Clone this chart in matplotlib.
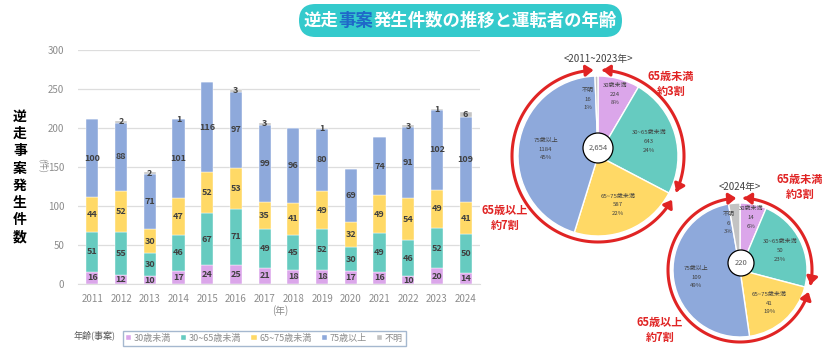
import numpy as np
import matplotlib.pyplot as plt
from matplotlib.patches import FancyBboxPatch, FancyArrowPatch, Circle
from matplotlib.path import Path

plt.rcParams['font.family'] = ['Noto Sans CJK JP', 'DejaVu Sans']

# data
years = [str(y) for y in range(2011, 2025)]
u30 = [16, 12, 10, 17, 24, 25, 21, 18, 18, 17, 16, 10, 20, 14]
a30_65 = [51, 55, 30, 46, 67, 71, 49, 45, 52, 30, 49, 46, 52, 50]
a65_75 = [44, 52, 30, 47, 52, 53, 35, 41, 49, 32, 49, 54, 49, 41]
o75 = [100, 88, 71, 101, 116, 97, 99, 96, 80, 69, 74, 91, 102, 109]
unknown = [0, 2, 2, 1, 0, 3, 3, 0, 1, 0, 0, 3, 1, 6]

age_labels = ['30歳未満', '30~65歳未満', '65~75歳未満', '75歳以上', '不明']
colors = ['#DBA6EA', '#66CBC0', '#FFD966', '#8EA9DB', '#C3C3C3']

pie_all = [224, 643, 587, 1184, 16]
pie_all_pct = ['8%', '24%', '22%', '45%', '1%']
pie_all_total = '2,654'
pie_24 = [14, 50, 41, 109, 6]
pie_24_pct = ['6%', '23%', '19%', '49%', '3%']
pie_24_total = '220'

W, H = 829, 360
fig = plt.figure(figsize=(W / 100, H / 100), dpi=100)

# ---------- stacked bar chart ----------
ax = fig.add_axes([78 / W, 76 / H, 402 / W, 234 / H])
x = np.arange(len(years))
bottom = np.zeros(len(years))
for vals, c, lab in zip([u30, a30_65, a65_75, o75, unknown], colors, age_labels):
    vals = np.array(vals)
    ax.bar(x, vals, bottom=bottom, width=0.42, color=c, edgecolor='white',
           linewidth=0.3, label=lab, zorder=2)
    for i, v in enumerate(vals):
        if v > 0:
            ax.text(x[i], bottom[i] + v / 2, str(v), ha='center', va='center',
                    fontsize=6.5, color='#404040', fontweight='bold', zorder=3)
    bottom = bottom + vals

ax.set_xlim(-0.5, len(years) - 0.5)
ax.set_ylim(0, 300)
ax.set_yticks(range(0, 301, 50))
ax.set_xticks(x)
ax.set_xticklabels(years)
ax.tick_params(length=0, labelsize=7, labelcolor='#8C8C8C')
ax.tick_params(axis='x', pad=7)
ax.tick_params(axis='y', pad=10)
ax.grid(axis='y', color='#DDDDDD', linewidth=0.9, zorder=0)
for s in ['top', 'right', 'left']:
    ax.spines[s].set_visible(False)
ax.spines['bottom'].set_color('#DDDDDD')

fig.text(280 / W, 1 - 311 / H, '(年)', ha='center', va='center', fontsize=7, color='#8C8C8C')
fig.text(43 / W, 1 - 166 / H, '(件)', ha='center', va='center', fontsize=6.5,
         color='#8C8C8C', rotation=270)

# vertical title
for k, ch in enumerate('逆走事案発生件数'):
    fig.text(20 / W, 1 - (117 + k * 17.2) / H, ch, ha='center', va='center',
             fontsize=10, fontweight='bold', color='black')

# legend
leg = fig.legend(loc='upper left', bbox_to_anchor=(118 / W, 1 - 326 / H), ncol=5,
                 fontsize=6.5, frameon=True, fancybox=False, edgecolor='#8FA6C4',
                 handlelength=0.6, handleheight=0.6, handletextpad=0.3,
                 columnspacing=1.1, borderpad=0.35, labelcolor='#8C8C8C')
leg.get_frame().set_linewidth(1.0)
fig.text(95 / W, 1 - 335 / H, '年齢(事案)', ha='center', va='center', fontsize=6.5, color='#595959')

# ---------- overlay for banner and pies ----------
ov = fig.add_axes([0, 0, 1, 1])
ov.set_zorder(5)
ov.patch.set_alpha(0)
ov.set_xlim(0, W)
ov.set_ylim(0, H)


def Y(ypx):
    return H - ypx


banner = FancyBboxPatch((283 + 16, Y(37)), 355 - 32, 33, boxstyle='round,pad=0,rounding_size=16.5',
                        facecolor='#34CACC', edgecolor='none')
ov.add_patch(banner)

# multicolor title: measure prefixes of the full string
head, blue, tail = '逆走', '事案', '発生件数の推移と運転者の年齢'
title_kw = dict(fontsize=12.5, fontweight='bold', va='center', ha='left')
fig.canvas.draw()
renderer = fig.canvas.get_renderer()


def text_w(s):
    t = ov.text(0, 0, s, **title_kw)
    w = t.get_window_extent(renderer).width
    t.remove()
    return w


w_all = text_w(head + blue + tail)
x0 = 460 - w_all / 2
ov.text(x0, Y(21), head, color='white', **title_kw)
ov.text(x0 + text_w(head), Y(21), blue, color='#1F68C8', **title_kw)
ov.text(x0 + text_w(head + blue), Y(21), tail, color='white', **title_kw)


def draw_pie(vals, pcts, total, cx, cy, r, ring_r, title, title_y, inner, note_hi, note_lo):
    wedges, _ = ov.pie(vals, colors=colors, startangle=90, counterclock=False,
                       center=(cx, Y(cy)), radius=r,
                       wedgeprops=dict(edgecolor='white', linewidth=1.0))
    tot = sum(vals)
    for w, lab, v, p in zip(wedges, age_labels, vals, pcts):
        mid = (w.theta1 + w.theta2) / 2
        f = 0.8 if v / tot < 0.1 else 0.66
        if lab == '不明':
            mid += 9
            f = 0.72
        tx = cx + f * r * np.cos(np.radians(mid))
        ty = Y(cy) + f * r * np.sin(np.radians(mid))
        ov.text(tx, ty, f'{lab}\n{v}\n{p}', ha='center', va='center', fontsize=4.3,
                color='#404040', linespacing=1.9, zorder=6)
    # center circle
    ox, oy, orad = inner
    ov.add_patch(Circle((ox, Y(oy)), orad, facecolor='white', edgecolor='black', lw=0.9, zorder=7))
    ov.text(ox, Y(oy), total, ha='center', va='center', fontsize=5.5, color='#595959', zorder=8)
    ov.text(cx, Y(title_y), title, ha='center', va='center', fontsize=7, color='#404040')
    # red arrows around
    b = 90 - 360 * (vals[0] + vals[1]) / tot
    arcs = [(87, b + 3), (b - 3, 93 - 360)]
    for a0, a1 in arcs:
        th = np.radians(np.linspace(a0, a1, 120))
        verts = np.column_stack([cx + ring_r * np.cos(th), Y(cy) + ring_r * np.sin(th)])
        arr = FancyArrowPatch(path=Path(verts), arrowstyle='<|-|>,head_length=0.55,head_width=0.4',
                              mutation_scale=8, color='#E02424', lw=2.2, shrinkA=0, shrinkB=0, zorder=4)
        ov.add_patch(arr)
    for (nx, ny), s in zip([note_hi, note_lo], ['65歳未満\n約3割', '65歳以上\n約7割']):
        ov.text(nx, Y(ny), s, ha='center', va='center', fontsize=8, fontweight='bold',
                color='#E02424', linespacing=1.2)


draw_pie(pie_all, pie_all_pct, pie_all_total, 598, 156, 80, 86, '<2011~2023年>', 59,
         (598, 148, 15), (671, 84), (505, 218))
draw_pie(pie_24, pie_24_pct, pie_24_total, 740, 270, 67, 72, '<2024年>', 187,
         (741, 263, 13), (800, 187), (660, 330))

ov.set_xlim(0, W)
ov.set_ylim(0, H)
ov.set_aspect('auto')
ov.axis('off')

fig.savefig('out.png', dpi=100)
